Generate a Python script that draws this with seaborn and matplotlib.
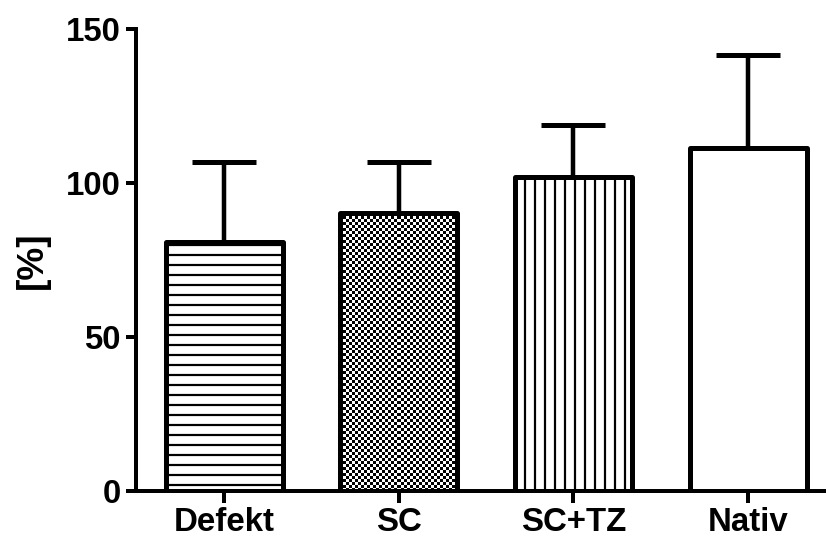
import numpy as np
import pandas as pd
import matplotlib
matplotlib.use("Agg")
import matplotlib.pyplot as plt
import seaborn as sns

# ---- data ----
categories = ["Defekt", "SC", "SC+TZ", "Nativ"]
means = [80.8, 90.2, 101.9, 111.6]
sd = [26.2, 16.8, 17.0, 30.1]
y_ticks = [0, 50, 100, 150]
y_label = "[%]"

DPI = 60
PT = 72.0 / DPI  # points per pixel

sns.set_theme(style="ticks")
plt.rcParams["font.family"] = ["Liberation Sans", "DejaVu Sans"]
plt.rcParams["font.weight"] = "bold"
plt.rcParams["hatch.linewidth"] = 2.2 * PT
plt.rcParams["hatch.color"] = "black"
plt.rcParams["text.color"] = "black"
plt.rcParams["axes.labelcolor"] = "black"

fig = plt.figure(figsize=(826 / DPI, 543 / DPI), dpi=DPI)
ax = fig.add_axes([135.5 / 826, 0.0958, 1 - 135.5 / 826, 0.9457 - 0.0958])

df = pd.DataFrame({"group": categories, "value": means})
sns.barplot(data=df, x="group", y="value", ax=ax, width=0.67, color="white",
            edgecolor="black", linewidth=5 * PT, errorbar=None, saturation=1)

hatches = ["-", None, "|", None]
for p, h in zip(ax.patches, hatches):
    p.set_facecolor("white")
    p.set_edgecolor("black")
    p.set_joinstyle("round")
    if h:
        p.set_hatch(h)
    p.set_zorder(2)

# error bars (upper only)
eb = ax.errorbar(np.arange(len(categories)), means,
                 yerr=[np.zeros(len(sd)), sd], fmt="none", ecolor="black",
                 elinewidth=4.5 * PT, capsize=32 * PT, capthick=5 * PT, zorder=1.5)
for cap in eb[1]:
    cap.set_solid_capstyle("round")

ax.set_xlim(-0.507, 3.446)
ax.set_ylim(0, 150)

# checkerboard texture for SC bar
fig.canvas.draw()
p = ax.patches[1]
x0, y0 = p.get_x(), p.get_y()
w, h = p.get_width(), p.get_height()
(px0, py0) = ax.transData.transform((x0, y0))
(px1, py1) = ax.transData.transform((x0 + w, y0 + h))
cell = 3.0
nx = max(1, int(round((px1 - px0) / cell)))
ny = max(1, int(round((py1 - py0) / cell)))
ii, jj = np.indices((ny, nx))
board = ((ii + jj) % 2).astype(float)
p.set_facecolor("none")
ax.imshow(board, extent=(x0, x0 + w, y0, y0 + h), cmap="gray",
          interpolation="nearest", aspect="auto", clip_path=p, zorder=1.9,
          vmin=0, vmax=1)
ax.set_xlim(-0.507, 3.446)
ax.set_ylim(0, 150)

# axes styling
for s in ["top", "right"]:
    ax.spines[s].set_visible(False)
for s in ["left", "bottom"]:
    ax.spines[s].set_linewidth(4 * PT)
    ax.spines[s].set_color("black")
    ax.spines[s].set_capstyle("projecting")

ax.set_yticks(y_ticks)
ax.set_yticklabels([str(t) for t in y_ticks])
ax.tick_params(axis="both", direction="out", length=10 * PT, width=4 * PT,
               colors="black", labelsize=33 * PT)
ax.tick_params(axis="y", pad=5 * PT)
ax.tick_params(axis="x", pad=4 * PT, length=12 * PT)
for lab in ax.get_xticklabels() + ax.get_yticklabels():
    lab.set_fontweight("bold")
    lab.set_color("black")

ax.set_xlabel("")
ax.set_ylabel(y_label, fontsize=37 * PT, fontweight="bold", color="black")
ax.yaxis.set_label_coords(-0.124, 0.5)

fig.savefig("out.png", dpi=DPI)
